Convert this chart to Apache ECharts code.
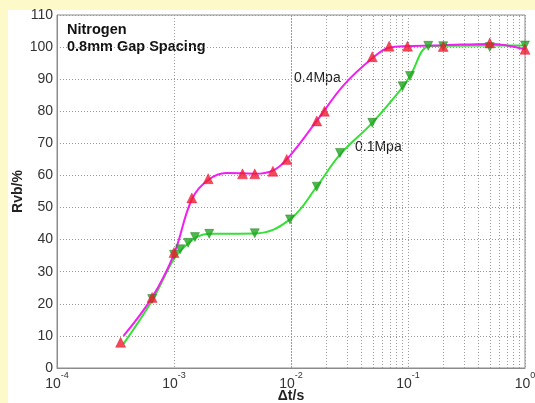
<!DOCTYPE html>
<html>
<head>
<meta charset="utf-8">
<script src="https://cdn.jsdelivr.net/npm/echarts@6/dist/echarts.min.js"></script>
<style>
  html, body { margin: 0; padding: 0; }
  #page { position: relative; width: 535px; height: 403px; background: #fdf9c9; overflow: hidden; }
  #panel { position: absolute; left: 8px; top: 10px; width: 527px; height: 393px; background: #ffffff; }
  #chart { position: absolute; left: 0; top: 0; width: 535px; height: 403px; }
</style>
</head>
<body>
<div id="page"><div id="panel"></div><div id="chart"></div></div>
<script>
// Breakdown voltage recovery vs. pulse interval, nitrogen, 0.8 mm gap
// Measured points: [interval Δt (s), Rvb (%)]
const points04 = [
  [3.5e-4, 8], [6.5e-4, 22], [1.0e-3, 36], [1.42e-3, 53], [1.96e-3, 59],
  [3.85e-3, 60.5], [4.9e-3, 60.5], [7.0e-3, 61.3], [9.2e-3, 65],
  [1.66e-2, 77], [1.93e-2, 80], [4.95e-2, 97], [6.9e-2, 100.3],
  [9.9e-2, 100.3], [0.2, 100.2], [0.5, 101.3], [1.0, 99.3]
];
const points01 = [
  [6.5e-4, 21.5], [1.0e-3, 35.3], [1.13e-3, 37], [1.32e-3, 39], [1.51e-3, 40.8],
  [2.0e-3, 41.8], [4.9e-3, 42], [9.8e-3, 46.3], [1.66e-2, 56.5],
  [2.62e-2, 67], [4.95e-2, 76.4], [9.0e-2, 87.8], [0.104, 91],
  [0.149, 100.4], [0.2, 100.3], [0.5, 100], [1.0, 100.5]
];
// Fitted curves drawn through the measurements
const curve04 = [
  [3.7e-4, 10], [6.5e-4, 22], [1.0e-3, 35.5], [1.42e-3, 52.5], [1.96e-3, 58.6],
  [2.8e-3, 60.8], [4.9e-3, 60.5], [7.0e-3, 61.5], [9.2e-3, 65],
  [1.66e-2, 77], [2.8e-2, 88], [4.95e-2, 96.5], [6.9e-2, 99.8],
  [9.9e-2, 100.3], [0.2, 100.6], [0.5, 101], [1.0, 99.3]
];
const curve01 = [
  [3.7e-4, 7.5], [6.5e-4, 21], [1.0e-3, 34], [1.32e-3, 38.8], [1.6e-3, 41],
  [2.0e-3, 41.8], [4.9e-3, 41.9], [9.8e-3, 46.3], [1.66e-2, 56.5],
  [2.62e-2, 66.5], [4.95e-2, 76.4], [9.0e-2, 87.5], [0.104, 91],
  [0.15, 100.2], [0.2, 100.4], [0.5, 100.5], [1.0, 100.5]
];
// Axis ranges and tick labels
const xRange = [1e-4, 1];
const yTicks = [0, 10, 20, 30, 40, 50, 60, 70, 80, 90, 100, 110];
const xTickExponents = { '0.0001': '-4', '0.001': '-3', '0.01': '-2', '0.1': '-1', '1': '0' };
const decades = [1e-4, 1e-3, 1e-2, 1e-1];
const subDivisions = [2, 3, 4, 5, 6, 7, 8, 9];

const gridColor = '#9a9a9a';
const gridDash = [1, 2];
const minorLines = [];
decades.forEach(d => subDivisions.forEach(k => minorLines.push({ xAxis: d * k })));

const chart = echarts.init(document.getElementById('chart'), null, { renderer: 'canvas' });
const font = 'Liberation Sans, Arial, sans-serif';

chart.setOption({
  animation: false,
  backgroundColor: 'transparent',
  grid: {
    left: 57, right: 10, top: 15, bottom: 35, outerBoundsMode: 'none', containLabel: false,
    show: true, borderColor: '#8c8c8c', borderWidth: 1, backgroundColor: 'transparent'
  },
  xAxis: {
    type: 'log', logBase: 10, min: xRange[0], max: xRange[1],
    name: 'Δt/s', nameLocation: 'middle', nameGap: 21, nameMoveOverlap: false,
    nameTextStyle: { fontFamily: font, fontWeight: 'bold', fontSize: 14, color: '#222' },
    axisLine: { show: true, lineStyle: { color: '#8c8c8c' } },
    axisTick: { show: false },
    axisLabel: {
      margin: 3, fontFamily: font, color: '#333', hideOverlap: false,
      formatter: v => '{b|10}{s|' + (xTickExponents[String(v)] ?? Math.round(Math.log10(v))) + '}',
      rich: {
        b: { fontSize: 14, fontFamily: font, color: '#333', verticalAlign: 'bottom', padding: [6, 0, 0, 0] },
        s: { fontSize: 9, fontFamily: font, color: '#333', verticalAlign: 'top', padding: [0, 0, 6, 0] }
      }
    },
    splitLine: { show: true, lineStyle: { color: gridColor, type: gridDash, width: 1 } }
  },
  yAxis: {
    type: 'value', min: yTicks[0], max: yTicks[yTicks.length - 1], interval: 10,
    name: 'Rvb/%', nameLocation: 'middle', nameGap: 32, nameRotate: 90, nameMoveOverlap: false,
    nameTextStyle: { fontFamily: font, fontWeight: 'bold', fontSize: 14, color: '#222' },
    axisLine: { show: true, lineStyle: { color: '#8c8c8c' } },
    axisTick: { show: false },
    axisLabel: { margin: 4, fontFamily: font, fontSize: 14, color: '#333', hideOverlap: false },
    splitLine: { show: true, lineStyle: { color: gridColor, type: gridDash, width: 1 } }
  },
  series: [
    {
      name: '0.1Mpa curve', type: 'line', data: curve01, smooth: 0.4, showSymbol: false, z: 3,
      lineStyle: { color: '#36e036', width: 2 },
      // logarithmic minor grid (2..9 within each decade)
      markLine: {
        silent: true, symbol: ['none', 'none'], label: { show: false }, animation: false,
        lineStyle: { color: gridColor, type: gridDash, width: 1 },
        emphasis: { disabled: true },
        z: 1,
        data: minorLines
      }
    },
    {
      name: '0.4Mpa curve', type: 'line', data: curve04, smooth: 0.4, showSymbol: false, z: 3,
      lineStyle: { color: '#f020f0', width: 2 }
    },
    {
      name: '0.1Mpa', type: 'scatter', data: points01, symbol: 'triangle', symbolRotate: 180, symbolSize: 9, z: 4,
      itemStyle: { color: '#1fa81f', borderColor: '#147014', borderWidth: 0.5 }
    },
    {
      name: '0.4Mpa', type: 'scatter', data: points04, symbol: 'triangle', symbolSize: 10, z: 5,
      itemStyle: { color: '#f01d2d', borderColor: '#e0103a', borderWidth: 0.5 }
    }
  ],
  graphic: [
    { type: 'text', left: 67, top: 22, style: { text: 'Nitrogen', font: 'bold 14.5px ' + font, fill: '#111' } },
    { type: 'text', left: 67, top: 39, style: { text: '0.8mm Gap Spacing', font: 'bold 14.5px ' + font, fill: '#111' } },
    { type: 'text', left: 294, top: 71, style: { text: '0.4Mpa', font: '14px ' + font, fill: '#222' } },
    { type: 'text', left: 355, top: 140, style: { text: '0.1Mpa', font: '14px ' + font, fill: '#222' } }
  ]
});
</script>
</body>
</html>
